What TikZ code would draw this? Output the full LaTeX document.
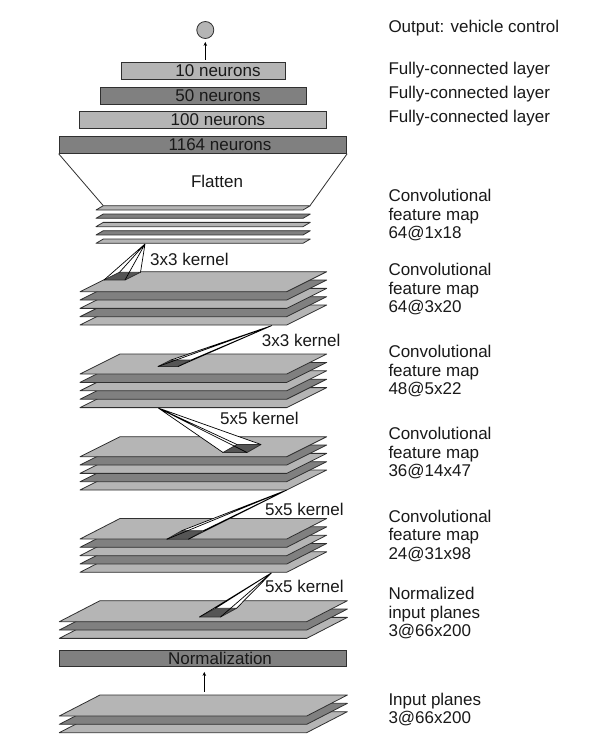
\documentclass[tikz,border=0pt]{standalone}
\usepackage{fontspec}
\setmainfont{Liberation Sans}
\usetikzlibrary{arrows.meta}
\definecolor{lightg}{HTML}{B5B5B5}
\definecolor{darkg}{HTML}{808080}
\definecolor{kerng}{HTML}{555555}
\definecolor{edgeg}{HTML}{303030}
\newcommand{\myplate}[6]{% xL, yTop, width, shift, height, colour
  \filldraw[plateline, fill=#6] (#1,#2+#5) -- ++(#3,0) -- ++(#4,-#5) -- ++(-#3,0) -- cycle;}
\newcommand{\mykern}[5]{% apex, BL, BR, TR, TL
  \fill[white] #1 -- #2 -- #3 -- cycle;
  \fill[white] #1 -- #3 -- #4 -- cycle;
  \fill[white] #1 -- #4 -- #5 -- cycle;
  \fill[white] #1 -- #5 -- #2 -- cycle;
  \filldraw[plateline, fill=kerng] #2 -- #3 -- #4 -- #5 -- cycle;
  \draw[kline] #1 -- #2 #1 -- #3 #1 -- #4 #1 -- #5;}
\begin{document}
\begin{tikzpicture}[x=1pt, y={(0pt,-1pt)},
  plateline/.style={draw=edgeg, line width=0.8pt, line join=round},
  kline/.style={draw=black, line width=0.7pt},
  bar/.style={draw=edgeg, line width=0.8pt, inner sep=0pt},
  txt/.style={inner sep=0pt, font=\fontsize{17}{18.5}\selectfont, text=black!90},
  lab/.style={txt, anchor=west, align=left},
  arr/.style={-{Stealth[length=4pt,width=3.5pt]}, line width=1pt, black}]
\fill[white] (0,0) rectangle (600,750);
\useasboundingbox (0,0) rectangle (600,750);

% output neuron
\node[circle, draw=edgeg, fill=lightg, line width=0.8pt, minimum size=17pt, inner sep=0pt] (out) at (205.3,30) {};

% fully connected bars
\node[bar, fill=lightg, minimum width=164.5pt, minimum height=17pt] (fc10) at (203.2,70.8) {};
\node[bar, fill=darkg, minimum width=206pt, minimum height=16.7pt] (fc50) at (203,95.7) {};
\node[bar, fill=lightg, minimum width=247.4pt, minimum height=16.6pt] (fc100) at (203,120) {};
\node[bar, fill=darkg, minimum width=287.7pt, minimum height=17.3pt] (fc1164) at (202.9,144.7) {};
\node[txt] (t10) at (218,71) {10 neurons};
\node[txt] (t50) at (218,95.8) {50 neurons};
\node[txt] (t100) at (218,120) {100 neurons};
\node[txt] (t1164) at (220,144.8) {1164 neurons};

\coordinate (a1s) at (205.3,59.5);
\draw[arr, shorten >=3pt] (a1s) -- (out);

% flatten
\coordinate (flL) at (103.3,205.7);
\coordinate (flR) at (310,205.7);
\draw[plateline] (fc1164.south west) -- (flL);
\draw[plateline] (fc1164.south east) -- (flR);
\node[txt] (flat) at (217,181) {Flatten};

% stack 1: 64@1x18
\foreach \i/\c in {4/lightg,3/darkg,2/lightg,1/darkg,0/lightg}
  \myplate{96}{205.7+\i*8.33}{207}{7.3}{4.3}{\c};
% stack 2: 64@3x20
\foreach \i/\c in {4/lightg,3/darkg,2/lightg,1/darkg,0/lightg}
  \myplate{80}{271.7+\i*8.33}{206.7}{40}{20}{\c};
% stack 3: 48@5x22
\foreach \i/\c in {4/lightg,3/darkg,2/lightg,1/darkg,0/lightg}
  \myplate{80}{354+\i*8.4}{206.7}{40}{20}{\c};
% stack 4: 36@14x47
\foreach \i/\c in {4/lightg,3/darkg,2/lightg,1/darkg,0/lightg}
  \myplate{80}{436.7+\i*8.33}{206.7}{40}{20}{\c};
% stack 5: 24@31x98
\foreach \i/\c in {4/lightg,3/darkg,2/lightg,1/darkg,0/lightg}
  \myplate{80}{518.5+\i*8.33}{206.7}{40}{20.5}{\c};
% stack 6: normalized input planes
\foreach \i/\c in {2/lightg,1/darkg,0/lightg}
  \myplate{59.3}{600.7+\i*8.33}{247.4}{40.7}{21}{\c};
% stack 7: input planes
\foreach \i/\c in {2/lightg,1/darkg,0/lightg}
  \myplate{59.3}{695+\i*8.33}{247.4}{40.7}{21}{\c};

% normalization bar
\node[bar, fill=darkg, minimum width=287.7pt, minimum height=16pt] (norm) at (202.9,658) {};
\node[txt] (tnorm) at (220,658) {Normalization};
\coordinate (a2s) at (204.3,691.5);
\draw[arr, shorten >=5.5pt] (a2s) -- (a2s |- norm.south);

% kernels
\mykern{(145,244)}{(104,280)}{(125,280)}{(140.5,272.3)}{(119.5,272.3)}
\mykern{(272,325.5)}{(158,366.5)}{(178,366.5)}{(191,360)}{(171,360)}
\mykern{(158.3,408)}{(223,452.5)}{(247,452.5)}{(261,444.5)}{(237,444.5)}
\mykern{(286.7,490)}{(166.7,539.3)}{(188.3,539.3)}{(203.3,530.7)}{(181.7,530.7)}
\mykern{(271.7,572.7)}{(199.5,617)}{(220.5,617)}{(236.5,608.3)}{(215.5,608.3)}

\node[lab] (k1) at (150,259) {3x3 kernel};
\node[lab] (k2) at (261.7,340.7) {3x3 kernel};
\node[lab] (k3) at (220,418.3) {5x5 kernel};
\node[lab] (k4) at (265,509.3) {5x5 kernel};
\node[lab] (k5) at (265,586.7) {5x5 kernel};

% right column labels
\node[lab] (lout) at (388.3,28.5) {Output: vehicle control};
\node[lab] (lfc1) at (388.3,70.3) {Fully-connected layer};
\node[lab] (lfc2) at (388.3,94.5) {Fully-connected layer};
\node[lab] (lfc3) at (388.3,118.5) {Fully-connected layer};
\node[lab] (lc1) at (388.3,215.5) {Convolutional\\feature map\\64@1x18};
\node[lab] (lc2) at (388.3,289.5) {Convolutional\\feature map\\64@3x20};
\node[lab] (lc3) at (388.3,371.5) {Convolutional\\feature map\\48@5x22};
\node[lab] (lc4) at (388.3,453.5) {Convolutional\\feature map\\36@14x47};
\node[lab] (lc5) at (388.3,536) {Convolutional\\feature map\\24@31x98};
\node[lab] (ln) at (388.3,613.5) {Normalized\\input planes\\3@66x200};
\node[lab] (lin) at (388.3,709.5) {Input planes\\3@66x200};
\end{tikzpicture}
\end{document}
